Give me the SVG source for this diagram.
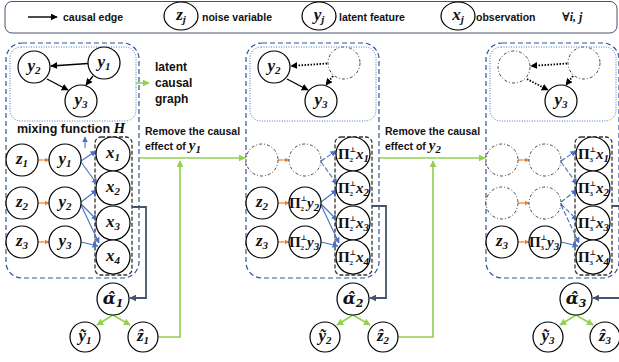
<svg xmlns="http://www.w3.org/2000/svg" width="619" height="362" viewBox="0 0 619 362">
<style>
  .node{fill:#fff;stroke:#000;stroke-width:1.2}
  .ghost{fill:#fff;stroke:#333;stroke-width:0.9;stroke-dasharray:3 2 1 2}
  .m{font-family:"Liberation Serif","DejaVu Serif",serif;font-weight:bold;font-style:italic;font-size:17px;fill:#111}
  .hat{font-family:"DejaVu Serif","Liberation Serif",serif}
  .p{font-size:15px}
  .up{font-style:normal}
  .sb{font-size:11px}
  .sp{font-size:7px;font-style:normal}
  .lbl{font-family:"Liberation Sans",Arial,sans-serif;font-weight:bold;font-size:10.5px;fill:#111}
  .big{font-size:12px}
  .outer{fill:none;stroke:#2f5597;stroke-width:1.2;stroke-dasharray:5 3}
  .inner{fill:none;stroke:#4472c4;stroke-width:1;stroke-dasharray:1 1.5}
  .xbox{fill:none;stroke:#333;stroke-width:1.3;stroke-dasharray:4 2}
  .blk{fill:none;stroke:#000;stroke-width:1.4;marker-end:url(#ahB)}
  .dot{fill:none;stroke:#000;stroke-width:1.8;stroke-dasharray:1.5 1.5;marker-end:url(#ahB)}
  .blue{fill:none;stroke:#4472c4;stroke-width:1.1;marker-end:url(#ahU)}
  .blued{fill:none;stroke:#4472c4;stroke-width:1.1;stroke-dasharray:5 2;marker-end:url(#ahU)}
  .org{fill:none;stroke:#ed7d31;stroke-width:1.2;marker-end:url(#ahO)}
  .grn{fill:none;stroke:#92d050;stroke-width:1.6;marker-end:url(#ahG)}
  .slate{fill:none;stroke:#44546a;stroke-width:1.8;marker-end:url(#ahS)}
</style>
<defs>
  <marker id="ahB" viewBox="0 0 10 10" refX="9" refY="5" markerWidth="7" markerHeight="7" markerUnits="userSpaceOnUse" orient="auto"><path d="M0,0 L10,5 L0,10 Z" fill="#000"/></marker>
  <marker id="ahU" viewBox="0 0 10 10" refX="9" refY="5" markerWidth="6" markerHeight="6" markerUnits="userSpaceOnUse" orient="auto"><path d="M0,0 L10,5 L0,10 Z" fill="#4472c4"/></marker>
  <marker id="ahO" viewBox="0 0 10 10" refX="9" refY="5" markerWidth="5" markerHeight="5" markerUnits="userSpaceOnUse" orient="auto"><path d="M0,0 L10,5 L0,10 Z" fill="#ed7d31"/></marker>
  <marker id="ahG" viewBox="0 0 10 10" refX="9" refY="5" markerWidth="7" markerHeight="7" markerUnits="userSpaceOnUse" orient="auto"><path d="M0,0 L10,5 L0,10 Z" fill="#92d050"/></marker>
  <marker id="ahS" viewBox="0 0 10 10" refX="9" refY="5" markerWidth="7" markerHeight="7" markerUnits="userSpaceOnUse" orient="auto"><path d="M0,0 L10,5 L0,10 Z" fill="#44546a"/></marker>
</defs>
<rect width="619" height="362" fill="#fff"/>

<!-- legend -->
<g id="legend">
  <rect x="5" y="1.5" width="612" height="31.5" rx="7" fill="none" stroke="#44546a" stroke-width="1"/>
  <line x1="28" y1="17" x2="57" y2="17" class="blk"/>
  <text x="63" y="21" class="lbl">causal edge</text>
  <ellipse cx="181" cy="16" rx="17" ry="14" class="node"/>
  <text x="181" y="20" class="m" text-anchor="middle">z<tspan class="sb" dy="3">j</tspan></text>
  <text x="202" y="21" class="lbl">noise variable</text>
  <ellipse cx="319" cy="16" rx="17" ry="14" class="node"/>
  <text x="319" y="20" class="m" text-anchor="middle">y<tspan class="sb" dy="3">j</tspan></text>
  <text x="339" y="21" class="lbl">latent feature</text>
  <ellipse cx="458" cy="16" rx="17" ry="14" class="node"/>
  <text x="458" y="20" class="m" text-anchor="middle">x<tspan class="sb" dy="3">j</tspan></text>
  <text x="476" y="21" class="lbl">observation</text>
  <text x="562" y="21" class="m" style="font-size:12px">∀i, j</text>
</g>

<!-- panel frames -->
<g id="frames">
  <rect x="6" y="43" width="133" height="235" rx="16" class="outer"/>
  <rect x="10" y="47" width="126" height="74" rx="11" class="inner"/>
  <rect x="95" y="137" width="37" height="138" rx="6" class="xbox"/>
  <rect x="246" y="43" width="133" height="235" rx="16" class="outer"/>
  <rect x="250" y="47" width="126" height="74" rx="11" class="inner"/>
  <rect x="335" y="137" width="37" height="138" rx="6" class="xbox"/>
  <rect x="486" y="43" width="133" height="235" rx="16" class="outer"/>
  <rect x="490" y="47" width="126" height="74" rx="11" class="inner"/>
  <rect x="575" y="137" width="37" height="138" rx="6" class="xbox"/>
</g>

<!-- connectors -->
<g id="connectors">
  <!-- latent graphs -->
  <line x1="88" y1="63.5" x2="51" y2="66" class="blk"/>
  <line x1="93" y1="76" x2="86" y2="85" class="blk"/>
  <line x1="47" y1="79" x2="68" y2="90" class="blk"/>
  <line x1="327" y1="63.5" x2="291" y2="66" class="dot"/>
  <line x1="333" y1="76" x2="326" y2="85" class="dot"/>
  <line x1="287" y1="79" x2="308" y2="90" class="blk"/>
  <line x1="567" y1="63.5" x2="531" y2="66" class="dot"/>
  <line x1="573" y1="76" x2="566" y2="85" class="dot"/>
  <line x1="527" y1="79" x2="548" y2="90" class="dot"/>
  <line x1="136" y1="83" x2="149" y2="83" class="grn"/>

  <!-- noise to latent -->
  <line x1="38" y1="160" x2="49" y2="160" class="org"/>
  <line x1="38" y1="203" x2="49" y2="203" class="org"/>
  <line x1="38" y1="242" x2="49" y2="242" class="org"/>
  <line x1="278" y1="160" x2="289" y2="160" class="org"/>
  <line x1="278" y1="203" x2="289" y2="203" class="org"/>
  <line x1="278" y1="242" x2="289" y2="242" class="org"/>
  <line x1="518" y1="160" x2="529" y2="160" class="org"/>
  <line x1="518" y1="203" x2="529" y2="203" class="org"/>
  <line x1="518" y1="242" x2="529" y2="242" class="org"/>

  <!-- mixing function, panel 1 -->
  <line x1="85" y1="148" x2="85" y2="137" class="blue"/>
  <line x1="81" y1="161" x2="96" y2="151" class="blue"/>
  <line x1="81" y1="162" x2="97" y2="184" class="blue"/>
  <line x1="81" y1="202" x2="97" y2="190" class="blue"/>
  <line x1="81" y1="204" x2="97" y2="220" class="blue"/>
  <line x1="81" y1="205" x2="99" y2="243" class="blue"/>
  <line x1="81" y1="242" x2="98" y2="246" class="blue"/>
  <!-- panel 2 -->
  <line x1="321" y1="161" x2="336" y2="151" class="blued"/>
  <line x1="321" y1="162" x2="337" y2="184" class="blued"/>
  <line x1="321" y1="202" x2="337" y2="190" class="blue"/>
  <line x1="321" y1="204" x2="337" y2="220" class="blue"/>
  <line x1="321" y1="205" x2="339" y2="243" class="blue"/>
  <line x1="321" y1="242" x2="338" y2="246" class="blue"/>
  <!-- panel 3 -->
  <line x1="561" y1="161" x2="576" y2="151" class="blued"/>
  <line x1="561" y1="162" x2="577" y2="184" class="blued"/>
  <line x1="561" y1="202" x2="577" y2="190" class="blued"/>
  <line x1="561" y1="204" x2="577" y2="220" class="blued"/>
  <line x1="561" y1="205" x2="579" y2="243" class="blued"/>
  <line x1="561" y1="242" x2="578" y2="246" class="blue"/>

  <!-- observations to estimator -->
  <path d="M132,207 H146 V298 H130" class="slate"/>
  <path d="M372,206 H386 V298 H370" class="slate"/>
  <path d="M612,206 H630 V298 H593" class="slate"/>

  <!-- estimator outputs -->
  <line x1="113" y1="315" x2="97" y2="325" class="grn"/>
  <line x1="113" y1="315" x2="130" y2="325" class="grn"/>
  <line x1="353" y1="315" x2="337" y2="325" class="grn"/>
  <line x1="353" y1="315" x2="370" y2="325" class="grn"/>
  <line x1="576" y1="315" x2="560" y2="325" class="grn"/>
  <line x1="576" y1="315" x2="593" y2="325" class="grn"/>

  <!-- removal steps -->
  <path d="M158,337 H180 V161" class="grn"/>
  <line x1="139" y1="158" x2="245" y2="158" class="grn"/>
  <path d="M398,337 H433 V161" class="grn"/>
  <line x1="379" y1="158" x2="485" y2="158" class="grn"/>
</g>

<!-- labels -->
<g id="labels">
  <text x="155" y="71" class="lbl big">latent</text>
  <text x="155" y="87" class="lbl big">causal</text>
  <text x="155" y="103" class="lbl big">graph</text>
  <text x="17" y="133" class="lbl" style="font-size:12.5px">mixing  function <tspan class="m" style="font-size:15px">H</tspan></text>
  <text x="145" y="135" class="lbl">Remove the causal</text>
  <text x="145" y="150" class="lbl">effect of <tspan class="m" style="font-size:15px">y<tspan class="sb" dy="3">1</tspan></tspan></text>
  <text x="385" y="135" class="lbl">Remove the causal</text>
  <text x="385" y="150" class="lbl">effect of <tspan class="m" style="font-size:15px">y<tspan class="sb" dy="3">2</tspan></tspan></text>
</g>

<!-- panel 1 nodes -->
<g id="p1-gy2"><circle cx="34" cy="67" r="16" class="node"/><text x="34" y="71" class="m" text-anchor="middle">y<tspan class="sb" dy="3">2</tspan></text></g>
<g id="p1-gy1"><circle cx="104" cy="63" r="16" class="node"/><text x="104" y="67" class="m" text-anchor="middle">y<tspan class="sb" dy="3">1</tspan></text></g>
<g id="p1-gy3"><circle cx="81" cy="101" r="16" class="node"/><text x="81" y="105" class="m" text-anchor="middle">y<tspan class="sb" dy="3">3</tspan></text></g>
<g id="p1-z1"><circle cx="22" cy="160" r="16" class="node"/><text x="22" y="164" class="m" text-anchor="middle">z<tspan class="sb" dy="3">1</tspan></text></g>
<g id="p1-y1"><circle cx="65" cy="160" r="16" class="node"/><text x="65" y="164" class="m" text-anchor="middle">y<tspan class="sb" dy="3">1</tspan></text></g>
<g id="p1-z2"><circle cx="22" cy="203" r="16" class="node"/><text x="22" y="207" class="m" text-anchor="middle">z<tspan class="sb" dy="3">2</tspan></text></g>
<g id="p1-y2"><circle cx="65" cy="203" r="16" class="node"/><text x="65" y="207" class="m" text-anchor="middle">y<tspan class="sb" dy="3">2</tspan></text></g>
<g id="p1-z3"><circle cx="22" cy="242" r="16" class="node"/><text x="22" y="246" class="m" text-anchor="middle">z<tspan class="sb" dy="3">3</tspan></text></g>
<g id="p1-y3"><circle cx="65" cy="242" r="16" class="node"/><text x="65" y="246" class="m" text-anchor="middle">y<tspan class="sb" dy="3">3</tspan></text></g>
<g id="p1-x1"><circle cx="113" cy="154" r="17" class="node"/><text x="113" y="158" class="m" text-anchor="middle">x<tspan class="sb" dy="3">1</tspan></text></g>
<g id="p1-x2"><circle cx="113" cy="188" r="17" class="node"/><text x="113" y="192" class="m" text-anchor="middle">x<tspan class="sb" dy="3">2</tspan></text></g>
<g id="p1-x3"><circle cx="113" cy="223" r="17" class="node"/><text x="113" y="227" class="m" text-anchor="middle">x<tspan class="sb" dy="3">3</tspan></text></g>
<g id="p1-x4"><circle cx="113" cy="257" r="17" class="node"/><text x="113" y="261" class="m" text-anchor="middle">x<tspan class="sb" dy="3">4</tspan></text></g>
<g id="p1-alpha"><circle cx="113" cy="299" r="16" class="node"/><text x="113" y="304" class="m hat" text-anchor="middle">α̂<tspan class="sb" dy="3">1</tspan></text></g>
<g id="p1-ytilde"><circle cx="85" cy="337" r="15" class="node"/><text x="85" y="341" class="m" text-anchor="middle">ỹ<tspan class="sb" dy="3">1</tspan></text></g>
<g id="p1-zhat"><circle cx="143" cy="337" r="15" class="node"/><text x="143" y="341" class="m" text-anchor="middle">ẑ<tspan class="sb" dy="3">1</tspan></text></g>

<!-- panel 2 nodes -->
<g id="p2-gy2"><circle cx="274" cy="67" r="16" class="node"/><text x="274" y="71" class="m" text-anchor="middle">y<tspan class="sb" dy="3">2</tspan></text></g>
<g id="p2-gy1"><circle cx="344" cy="63" r="16" class="ghost"/></g>
<g id="p2-gy3"><circle cx="321" cy="101" r="16" class="node"/><text x="321" y="105" class="m" text-anchor="middle">y<tspan class="sb" dy="3">3</tspan></text></g>
<g id="p2-z1"><circle cx="262" cy="160" r="16" class="ghost"/></g>
<g id="p2-y1"><circle cx="305" cy="160" r="16" class="ghost"/></g>
<g id="p2-z2"><circle cx="262" cy="203" r="16" class="node"/><text x="262" y="207" class="m" text-anchor="middle">z<tspan class="sb" dy="3">2</tspan></text></g>
<g id="p2-y2"><circle cx="305" cy="203" r="16" class="node"/><text y="208" class="m p"><tspan x="289" class="up">Π</tspan><tspan x="300.5" dy="-7" class="sp">⊥</tspan><tspan x="300.5" dy="10" class="sp">2</tspan><tspan x="307" dy="-3">y</tspan><tspan class="sb" dy="3">2</tspan></text></g>
<g id="p2-z3"><circle cx="262" cy="242" r="16" class="node"/><text x="262" y="246" class="m" text-anchor="middle">z<tspan class="sb" dy="3">3</tspan></text></g>
<g id="p2-y3"><circle cx="305" cy="242" r="16" class="node"/><text y="247" class="m p"><tspan x="289" class="up">Π</tspan><tspan x="300.5" dy="-7" class="sp">⊥</tspan><tspan x="300.5" dy="10" class="sp">2</tspan><tspan x="307" dy="-3">y</tspan><tspan class="sb" dy="3">3</tspan></text></g>
<g id="p2-x1"><circle cx="353" cy="154" r="17" class="node"/><text y="159" class="m p"><tspan x="338" class="up">Π</tspan><tspan x="349.5" dy="-7" class="sp">⊥</tspan><tspan x="349.5" dy="10" class="sp">2</tspan><tspan x="356" dy="-3">x</tspan><tspan class="sb" dy="3">1</tspan></text></g>
<g id="p2-x2"><circle cx="353" cy="188" r="17" class="node"/><text y="193" class="m p"><tspan x="338" class="up">Π</tspan><tspan x="349.5" dy="-7" class="sp">⊥</tspan><tspan x="349.5" dy="10" class="sp">2</tspan><tspan x="356" dy="-3">x</tspan><tspan class="sb" dy="3">2</tspan></text></g>
<g id="p2-x3"><circle cx="353" cy="223" r="17" class="node"/><text y="228" class="m p"><tspan x="338" class="up">Π</tspan><tspan x="349.5" dy="-7" class="sp">⊥</tspan><tspan x="349.5" dy="10" class="sp">2</tspan><tspan x="356" dy="-3">x</tspan><tspan class="sb" dy="3">3</tspan></text></g>
<g id="p2-x4"><circle cx="353" cy="257" r="17" class="node"/><text y="262" class="m p"><tspan x="338" class="up">Π</tspan><tspan x="349.5" dy="-7" class="sp">⊥</tspan><tspan x="349.5" dy="10" class="sp">2</tspan><tspan x="356" dy="-3">x</tspan><tspan class="sb" dy="3">4</tspan></text></g>
<g id="p2-alpha"><circle cx="353" cy="299" r="16" class="node"/><text x="353" y="304" class="m hat" text-anchor="middle">α̂<tspan class="sb" dy="3">2</tspan></text></g>
<g id="p2-ytilde"><circle cx="325" cy="337" r="15" class="node"/><text x="325" y="341" class="m" text-anchor="middle">ỹ<tspan class="sb" dy="3">2</tspan></text></g>
<g id="p2-zhat"><circle cx="383" cy="337" r="15" class="node"/><text x="383" y="341" class="m" text-anchor="middle">ẑ<tspan class="sb" dy="3">2</tspan></text></g>

<!-- panel 3 nodes -->
<g id="p3-gy2"><circle cx="514" cy="67" r="16" class="ghost"/></g>
<g id="p3-gy1"><circle cx="584" cy="63" r="16" class="ghost"/></g>
<g id="p3-gy3"><circle cx="561" cy="101" r="16" class="node"/><text x="561" y="105" class="m" text-anchor="middle">y<tspan class="sb" dy="3">3</tspan></text></g>
<g id="p3-z1"><circle cx="502" cy="160" r="16" class="ghost"/></g>
<g id="p3-y1"><circle cx="545" cy="160" r="16" class="ghost"/></g>
<g id="p3-z2"><circle cx="502" cy="203" r="16" class="ghost"/></g>
<g id="p3-y2"><circle cx="545" cy="203" r="16" class="ghost"/></g>
<g id="p3-z3"><circle cx="502" cy="242" r="16" class="node"/><text x="502" y="246" class="m" text-anchor="middle">z<tspan class="sb" dy="3">3</tspan></text></g>
<g id="p3-y3"><circle cx="545" cy="242" r="16" class="node"/><text y="247" class="m p"><tspan x="529" class="up">Π</tspan><tspan x="540.5" dy="-7" class="sp">⊥</tspan><tspan x="540.5" dy="10" class="sp">3</tspan><tspan x="547" dy="-3">y</tspan><tspan class="sb" dy="3">3</tspan></text></g>
<g id="p3-x1"><circle cx="593" cy="154" r="17" class="node"/><text y="159" class="m p"><tspan x="578" class="up">Π</tspan><tspan x="589.5" dy="-7" class="sp">⊥</tspan><tspan x="589.5" dy="10" class="sp">3</tspan><tspan x="596" dy="-3">x</tspan><tspan class="sb" dy="3">1</tspan></text></g>
<g id="p3-x2"><circle cx="593" cy="188" r="17" class="node"/><text y="193" class="m p"><tspan x="578" class="up">Π</tspan><tspan x="589.5" dy="-7" class="sp">⊥</tspan><tspan x="589.5" dy="10" class="sp">3</tspan><tspan x="596" dy="-3">x</tspan><tspan class="sb" dy="3">2</tspan></text></g>
<g id="p3-x3"><circle cx="593" cy="223" r="17" class="node"/><text y="228" class="m p"><tspan x="578" class="up">Π</tspan><tspan x="589.5" dy="-7" class="sp">⊥</tspan><tspan x="589.5" dy="10" class="sp">3</tspan><tspan x="596" dy="-3">x</tspan><tspan class="sb" dy="3">3</tspan></text></g>
<g id="p3-x4"><circle cx="593" cy="257" r="17" class="node"/><text y="262" class="m p"><tspan x="578" class="up">Π</tspan><tspan x="589.5" dy="-7" class="sp">⊥</tspan><tspan x="589.5" dy="10" class="sp">3</tspan><tspan x="596" dy="-3">x</tspan><tspan class="sb" dy="3">4</tspan></text></g>
<g id="p3-alpha"><circle cx="576" cy="299" r="16" class="node"/><text x="576" y="304" class="m hat" text-anchor="middle">α̂<tspan class="sb" dy="3">3</tspan></text></g>
<g id="p3-ytilde"><circle cx="548" cy="337" r="15" class="node"/><text x="548" y="341" class="m" text-anchor="middle">ỹ<tspan class="sb" dy="3">3</tspan></text></g>
<g id="p3-zhat"><circle cx="605" cy="337" r="15" class="node"/><text x="605" y="341" class="m" text-anchor="middle">ẑ<tspan class="sb" dy="3">3</tspan></text></g>
</svg>
